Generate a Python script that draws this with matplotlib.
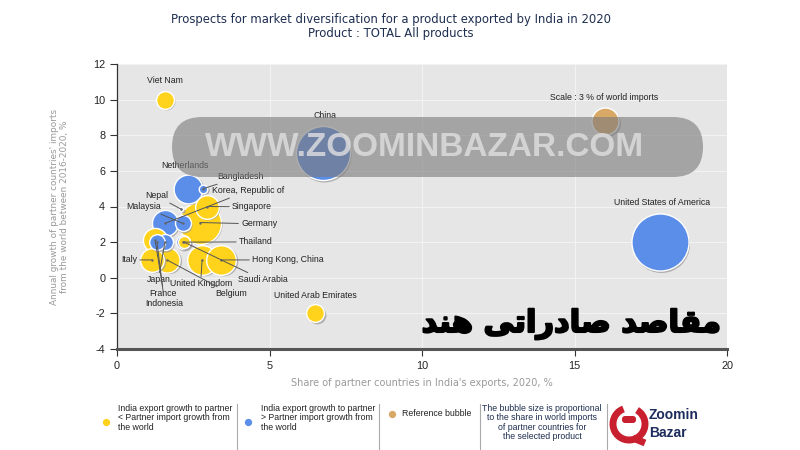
import matplotlib
matplotlib.use('Agg')
import matplotlib.pyplot as plt
import matplotlib.patheffects as pe
from matplotlib.patches import FancyBboxPatch, Arc
from matplotlib.transforms import offset_copy

plt.rcParams['axes.unicode_minus'] = False

# partner countries, share in India's exports (%), partner import growth (%),
# share in world imports (%), group: 'lt' = India growth < partner growth
countries = ['China', 'United States of America', 'Germany', 'United Kingdom',
             'Hong Kong, China', 'Netherlands', 'Korea, Republic of', 'Belgium',
             'France', 'Italy', 'Singapore', 'Viet Nam', 'United Arab Emirates',
             'Japan', 'Malaysia', 'Indonesia', 'Thailand', 'Saudi Arabia',
             'Bangladesh', 'Nepal']
share_exports = [6.75, 17.8, 2.72, 2.79, 3.41, 2.33, 1.57, 1.64,
                 1.25, 1.15, 2.95, 1.57, 6.5,
                 1.57, 2.16, 1.31, 2.16, 2.2,
                 2.82, 2.10]
import_growth = [7.0, 2.0, 3.1, 1.0, 1.0, 5.0, 3.05, 1.0,
                 2.1, 1.0, 4.0, 10.0, -2.0,
                 2.0, 3.05, 2.0, 2.0, 2.0,
                 5.0, 3.85]
world_share = [12.0, 13.4, 7.3, 3.6, 3.6, 3.4, 2.8, 2.6,
               2.4, 2.3, 2.3, 1.3, 1.3,
               1.05, 1.05, 1.0, 0.8, 0.6,
               0.3, 0.07]
group = ['gt', 'gt', 'lt', 'lt', 'lt', 'gt', 'gt', 'lt',
         'lt', 'lt', 'lt', 'lt', 'lt',
         'gt', 'gt', 'gt', 'gt', 'lt',
         'gt', 'gt']

ref_x, ref_y, ref_share = 16.0, 8.8, 3.0

# label placement (x, y, ha, leader line)
label_pos = {
    'Viet Nam': (1.57, 11.06, 'center', False),
    'China': (6.82, 9.09, 'center', False),
    'United States of America': (17.87, 4.2, 'center', False),
    'United Arab Emirates': (6.49, -0.97, 'center', False),
    'Netherlands': (2.23, 6.28, 'center', False),
    'Bangladesh': (3.28, 5.66, 'left', True),
    'Korea, Republic of': (3.11, 4.88, 'left', True),
    'Nepal': (1.67, 4.6, 'right', True),
    'Malaysia': (1.44, 3.98, 'right', True),
    'Singapore': (3.77, 3.98, 'left', True),
    'Germany': (4.07, 3.02, 'left', True),
    'Thailand': (4.0, 2.01, 'left', True),
    'Hong Kong, China': (4.43, 1.0, 'left', True),
    'Saudi Arabia': (3.97, -0.12, 'left', True),
    'Belgium': (3.21, -0.91, 'left', True),
    'United Kingdom': (2.75, -0.35, 'center', True),
    'Japan': (1.38, -0.12, 'center', True),
    'France': (1.51, -0.91, 'center', True),
    'Indonesia': (1.54, -1.42, 'center', True),
    'Italy': (0.66, 1.0, 'right', True),
}
from_top = ['United Kingdom', 'Japan', 'France', 'Indonesia']

YELLOW = '#ffd21c'
BLUE = '#5b8ee8'
TAN = '#d8a867'
S_PER_PCT = 126  # marker area (pt^2) per % of world imports

fig = plt.figure(figsize=(8, 4.5), dpi=100)
ax = fig.add_axes([117 / 800, 1 - 349 / 450, 610 / 800, 285 / 450])
ax.set_facecolor('#e6e6e6')
ax.set_xlim(0, 20)
ax.set_ylim(-4, 12)
ax.set_xticks([0, 5, 10, 15, 20])
ax.set_yticks(range(-4, 13, 2))
ax.grid(True, color='#f3f3f3', lw=0.8)
ax.set_axisbelow(True)
for s in ['top', 'right']:
    ax.spines[s].set_visible(False)
ax.spines['bottom'].set_color('#555555')
ax.spines['bottom'].set_linewidth(2.2)
ax.spines['left'].set_color('#333333')
ax.spines['left'].set_linewidth(0.9)
ax.tick_params(direction='out', length=5, width=0.8, color='#333333',
               labelsize=7.8, labelcolor='#222222')
for t in ax.get_xticklabels() + ax.get_yticklabels():
    t.set_fontfamily('Liberation Sans')

ax.set_xlabel("Share of partner countries in India's exports, 2020, %",
              fontsize=7, color='#999999', labelpad=5)
ax.set_ylabel("Annual growth of partner countries' imports\nfrom the world between 2016-2020, %",
              fontsize=6.4, color='#999999', labelpad=17)

# bubbles, biggest first
order = sorted(range(len(countries)), key=lambda i: -world_share[i])
shadow = offset_copy(ax.transData, fig=fig, x=1.5, y=-1.5, units='dots')
for i in order:
    col = YELLOW if group[i] == 'lt' else BLUE
    if countries[i] == 'Nepal':
        col = '#8ea7d6'
    s = world_share[i] * S_PER_PCT
    ax.scatter(share_exports[i], import_growth[i], s=s, color='#9a9a9a',
               alpha=0.7, lw=0, transform=shadow, zorder=2)
    ax.scatter(share_exports[i], import_growth[i], s=s, color=col,
               edgecolor='white', lw=1, zorder=2)

ax.scatter(ref_x, ref_y, s=ref_share * S_PER_PCT, color='#9a9a9a', alpha=0.7,
           lw=0, transform=shadow, zorder=2)
ax.scatter(ref_x, ref_y, s=ref_share * S_PER_PCT, color=TAN, edgecolor='white',
           lw=1, zorder=2)
ax.text(15.97, 10.1, 'Scale : 3 % of world imports', fontsize=6.3,
        family='Liberation Sans', ha='center', va='center', color='#222222')

for i, c in enumerate(countries):
    lx, ly, ha, line = label_pos[c]
    if line:
        rel = (0.5, 1.0) if c in from_top else (0.5, 0.5)
        ax.annotate(c, xy=(share_exports[i], import_growth[i]), xytext=(lx, ly),
                    ha=ha, va='center', fontsize=6.3, family='Liberation Sans',
                    color='#222222', zorder=4,
                    arrowprops=dict(arrowstyle='-', color='#555555', lw=0.7,
                                    shrinkA=0, shrinkB=0, relpos=rel))
        ax.scatter(share_exports[i], import_growth[i], s=3, color='#666666',
                   zorder=4, lw=0)
    else:
        ax.text(lx, ly, c, ha=ha, va='center', fontsize=6.3,
                family='Liberation Sans', color='#222222', zorder=4)

# overlay in pixel coordinates for title, legend, watermark and logo
ov = fig.add_axes([0, 0, 1, 1], zorder=10)
ov.set_xlim(0, 800)
ov.set_ylim(450, 0)
ov.axis('off')
ov.patch.set_alpha(0)

ov.text(391, 20, 'Prospects for market diversification for a product exported by India in 2020',
        ha='center', va='center', fontsize=8.4, color='#1f2f50')
ov.text(391, 34, 'Product : TOTAL All products', ha='center', va='center',
        fontsize=8.4, color='#1f2f50')

# watermark
ov.add_patch(FancyBboxPatch((172, 117), 531, 60,
                            boxstyle='round,pad=0,rounding_size=30',
                            fc='#7c7c7c', ec='none', alpha=0.62))
ov.text(425, 148, 'WWW.ZOOMINBAZAR.COM', ha='center', va='center',
        fontsize=24, weight='bold', family='Liberation Sans', color='#e0e0e0',
        alpha=0.8)

# persian caption (visual order, presentation forms)
ov.text(571, 324, '\uFEAA\uFEE8\uFEEB \uFEF0\uFE97\uFE8D\uFEAD\uFEA9\uFE8E\uFEBB \uFEAA\uFEBB\uFE8E\uFED8\uFEE3',
        ha='center', va='center', fontsize=22, weight='bold', color='black',
        path_effects=[pe.withStroke(linewidth=1.5, foreground='black')])

# legend
lfs = 6.3
ov.scatter([106], [422], s=18, color=YELLOW)
ov.text(118, 404, 'India export growth to partner\n< Partner import growth from\nthe world',
        va='top', fontsize=lfs, family='Liberation Sans', color='#222222',
        linespacing=1.05)
ov.scatter([248], [422], s=18, color=BLUE)
ov.text(261, 404, 'India export growth to partner\n> Partner import growth from\nthe world',
        va='top', fontsize=lfs, family='Liberation Sans', color='#222222',
        linespacing=1.05)
ov.scatter([392], [414], s=18, color=TAN)
ov.text(402, 409, 'Reference bubble', va='top', fontsize=lfs,
        family='Liberation Sans', color='#222222')
ov.text(542, 404, 'The bubble size is proportional\nto the share in world imports\nof partner countries for\nthe selected product',
        ha='center', va='top', fontsize=lfs, family='Liberation Sans',
        color='#1f2f50', linespacing=1.05)
for sx in [237, 379, 480, 607]:
    ov.plot([sx, sx], [404, 450], color='#aaaaaa', lw=0.8)

# logo
ov.add_patch(Arc((629, 424), 32, 32, theta1=-60, theta2=250, lw=5,
                 color='#c8202f'))
ov.plot([633, 645], [438, 443], color='#c8202f', lw=5, solid_capstyle='butt')
ov.add_patch(FancyBboxPatch((622, 416), 14, 7, boxstyle='round,pad=0,rounding_size=3',
                            fc='#c8202f', ec='none'))
ov.text(649, 415, 'Zoomin', va='center', fontsize=10, weight='bold',
        family='Liberation Sans', color='#1d2c5c')
ov.text(649, 433, 'Bazar', va='center', fontsize=10, weight='bold',
        family='Liberation Sans', color='#1d2c5c')

fig.savefig('out.png', dpi=100)
